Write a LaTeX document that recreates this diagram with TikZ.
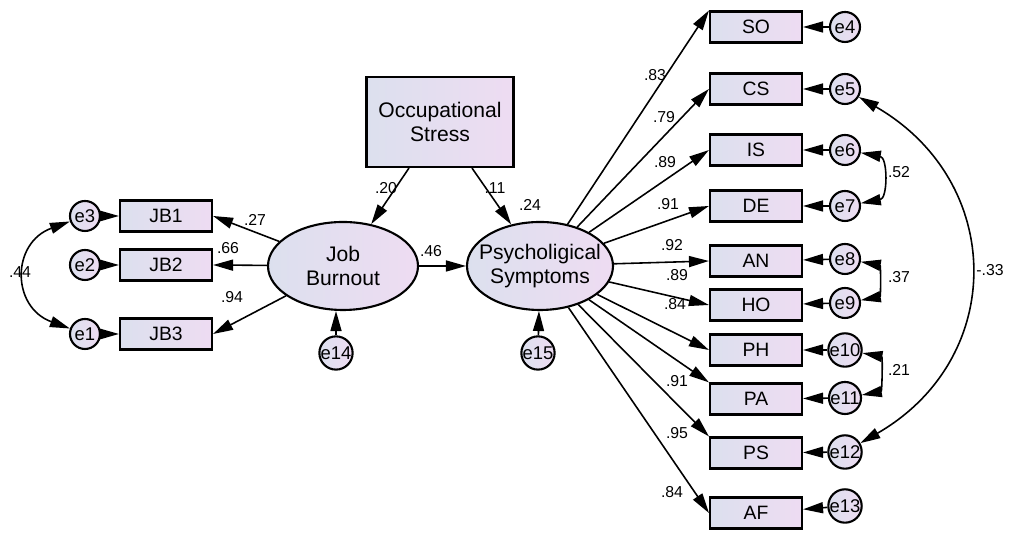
\documentclass[tikz,border=0pt]{standalone}
\usepackage{fontspec}
\setmainfont{Liberation Sans}
\usetikzlibrary{arrows.meta,shapes.geometric}

\definecolor{varleft}{RGB}{220,224,238}
\definecolor{varright}{RGB}{238,220,242}

\begin{document}
\begin{tikzpicture}[
  obs/.style={draw,line width=1.2pt,left color=varleft,right color=varright,minimum width=1.84cm,minimum height=0.62cm,font=\fontsize{11}{13}\selectfont},
  lat/.style={draw,ellipse,line width=1.2pt,left color=varleft,right color=varright,minimum width=3.0cm,minimum height=1.76cm,inner xsep=-0.25cm,inner ysep=0pt,align=center,font=\fontsize{12}{14}\selectfont},
  err/.style={draw,circle,line width=1.2pt,left color=varleft,right color=varright,minimum size=0.6cm,inner sep=0pt,font=\fontsize{10.5}{12}\selectfont},
  arr/.style={-{Triangle[length=0.4cm,width=0.22cm]},line width=0.9pt},
  covarr/.style={{Triangle[length=0.4cm,width=0.22cm]}-{Triangle[length=0.4cm,width=0.22cm]},line width=0.9pt},
  coef/.style={font=\fontsize{9}{11}\selectfont}
]
\useasboundingbox (0,0) rectangle (20.26,10.78);

\node[obs] (jb1) at (3.32,6.46) {JB1};
\node[obs] (jb2) at (3.32,5.48) {JB2};
\node[obs] (jb3) at (3.32,4.10) {JB3};
\node[err] (e3) at (1.70,6.46) {e3};
\node[err] (e2) at (1.70,5.48) {e2};
\node[err] (e1) at (1.70,4.10) {e1};
\node[lat] (jb) at (6.86,5.46) {Job\\Burnout};
\node[err] (e14) at (6.72,3.72) {e14};

\node[obs,minimum width=2.94cm,minimum height=1.8cm,align=center,font=\fontsize{12}{14}\selectfont] (os) at (8.80,8.34) {Occupational\\Stress};
\node[lat,minimum width=2.92cm] (ps) at (10.80,5.46) {Psycholigical\\Symptoms};
\node[err] (e15) at (10.76,3.72) {e15};

\node[obs] (so) at (15.12,10.24) {SO};
\node[obs] (cs) at (15.12,9.00) {CS};
\node[obs] (is) at (15.12,7.78) {IS};
\node[obs] (de) at (15.12,6.66) {DE};
\node[obs] (an) at (15.12,5.56) {AN};
\node[obs] (ho) at (15.12,4.68) {HO};
\node[obs] (ph) at (15.12,3.78) {PH};
\node[obs] (pa) at (15.12,2.80) {PA};
\node[obs] (pst) at (15.12,1.72) {PS};
\node[obs] (af) at (15.12,0.52) {AF};

\node[err] (e4) at (16.90,10.24) {e4};
\node[err] (e5) at (16.90,9.00) {e5};
\node[err] (e6) at (16.90,7.78) {e6};
\node[err] (e7) at (16.90,6.66) {e7};
\node[err] (e8) at (16.90,5.60) {e8};
\node[err] (e9) at (16.90,4.72) {e9};
\node[err] (e10) at (16.90,3.78) {e10};
\node[err] (e11) at (16.90,2.82) {e11};
\node[err] (e12) at (16.90,1.74) {e12};
\node[err] (e13) at (16.90,0.66) {e13};

\draw[arr] (e3) -- (jb1);
\draw[arr] (e2) -- (jb2);
\draw[arr] (e1) -- (jb3);
\draw[arr] (jb) -- (jb1.east);
\draw[arr] (jb) -- (jb2.east);
\draw[arr] (jb) -- (jb3.east);
\draw[arr] (e14) -- (e14 |- jb.south);
\draw[covarr] (e3) to[bend right=70,looseness=1.5] (e1);

\draw[arr] (os) -- (jb);
\draw[arr] (os) -- (ps);
\draw[arr] (jb) -- (ps);
\draw[arr] (e15) -- (ps);

\draw[arr] (ps) -- (so.north west);
\draw[arr] (ps) -- (cs.west);
\draw[arr] (ps) -- (is.west);
\draw[arr] (ps) -- (de.west);
\draw[arr] (ps) -- (an.west);
\draw[arr] (ps) -- (ho.west);
\draw[arr] (ps) -- (ph.west);
\draw[arr] (ps) -- (pa.north west);
\draw[arr] (ps) -- (pst.north west);
\draw[arr] (ps) -- (af.west);

\draw[arr] (e4) -- (so);
\draw[arr] (e5) -- (cs);
\draw[arr] (e6) -- (is);
\draw[arr] (e7) -- (de);
\draw[arr] (e8) -- (an);
\draw[arr] (e9) -- (ho);
\draw[arr] (e10) -- (ph);
\draw[arr] (e11) -- (pa);
\draw[arr] (e12) -- (pst);
\draw[arr] (e13) -- (af);

\draw[covarr] (e6) to[out=-10,in=10,looseness=1.4] (e7);
\draw[covarr] (e8) to[out=-10,in=10,looseness=1.35] (e9);
\draw[covarr] (e10) to[out=-10,in=10,looseness=1.25] (e11);
\draw[covarr] (e5) to[out=-30,in=30,looseness=1.25] (e12);

\node[coef] (c27) at (5.10,6.38) {.27};
\node[coef] (c66) at (4.56,5.82) {.66};
\node[coef] (c94) at (4.64,4.84) {.94};
\node[coef] (c44) at (0.40,5.34) {.44};
\node[coef] (c20) at (7.72,7.02) {.20};
\node[coef] (c11) at (9.90,7.02) {.11};
\node[coef] (c24) at (10.60,6.68) {.24};
\node[coef] (c46) at (8.62,5.76) {.46};

\node[coef] (cso) at (13.10,9.28) {.83};
\node[coef] (ccs) at (13.28,8.44) {.79};
\node[coef] (cis) at (13.30,7.54) {.89};
\node[coef] (cde) at (13.36,6.70) {.91};
\node[coef] (can) at (13.44,5.88) {.92};
\node[coef] (cho) at (13.54,5.28) {.89};
\node[coef] (cph) at (13.50,4.70) {.84};
\node[coef] (cpa) at (13.54,3.16) {.91};
\node[coef] (cps) at (13.54,2.12) {.95};
\node[coef] (caf) at (13.44,0.94) {.84};

\node[coef] (c52) at (17.98,7.34) {.52};
\node[coef] (c37) at (17.98,5.24) {.37};
\node[coef] (c21) at (17.98,3.38) {.21};
\node[coef] (c33) at (19.80,5.38) {-.33};
\end{tikzpicture}
\end{document}
